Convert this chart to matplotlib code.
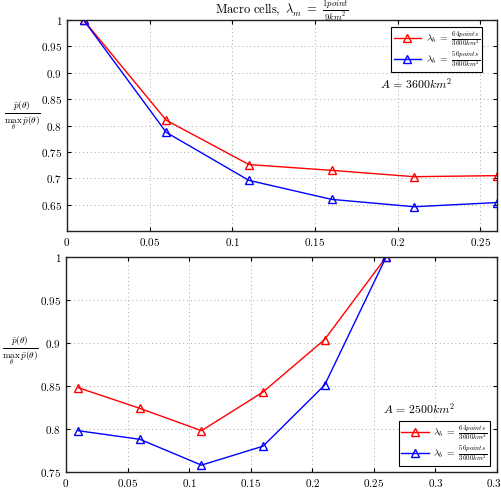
import matplotlib
matplotlib.use('Agg')
import matplotlib.pyplot as plt
from matplotlib.ticker import FuncFormatter

plt.rcParams['mathtext.fontset'] = 'cm'
plt.rcParams['font.family'] = ['DejaVu Serif']

theta = [0.01, 0.06, 0.11, 0.16, 0.21, 0.26]

# top panel, A = 3600 km^2
top_64 = [1.0, 0.81, 0.726, 0.715, 0.703, 0.705]
top_56 = [1.0, 0.787, 0.696, 0.66, 0.646, 0.654]

# bottom panel, A = 2500 km^2
bot_64 = [0.848, 0.824, 0.798, 0.843, 0.904, 1.0]
bot_56 = [0.798, 0.788, 0.758, 0.780, 0.851, 1.0]

lab_64 = r'$\lambda_b\ =\ \frac{64points}{3600km^2}$'
lab_56 = r'$\lambda_b\ =\ \frac{56points}{3600km^2}$'
ylab = r'$\frac{\bar{p}(\theta)}{\max_{\theta}\,\bar{p}(\theta)}$'

fmt = FuncFormatter(lambda v, p: r'$\mathrm{%g}$' % round(v, 3))

fig = plt.figure(figsize=(5.02, 4.93), dpi=100)
ax1 = fig.add_axes([0.1335, 0.5314, 0.8565, 0.428])
ax2 = fig.add_axes([0.1315, 0.0426, 0.8585, 0.4361])


def style(ax):
    ax.grid(True, linestyle=(0, (1, 3)), color='#aaaaaa', linewidth=0.7)
    ax.tick_params(direction='in', top=True, right=True, labelsize=8, length=3)
    ax.xaxis.set_major_formatter(fmt)
    ax.yaxis.set_major_formatter(fmt)
    for s in ax.spines.values():
        s.set_linewidth(1.0)
        s.set_color('#222222')


kw = dict(marker='^', markerfacecolor='none', markersize=6, linewidth=1.0, markeredgewidth=1.0)
legkw = dict(fontsize=7, fancybox=False, framealpha=1, edgecolor='black',
             handlelength=2.8, handletextpad=0.5, borderpad=0.25, labelspacing=0.15,
             borderaxespad=0)

ax1.plot(theta, top_64, color='red', label=lab_64, **kw)
ax1.plot(theta, top_56, color='blue', label=lab_56, **kw)
ax1.set_xlim(0, 0.26)
ax1.set_ylim(0.6, 1.0)
ax1.set_yticks([0.65, 0.7, 0.75, 0.8, 0.85, 0.9, 0.95, 1.0])
ax1.set_xticks([0, 0.05, 0.1, 0.15, 0.2, 0.25])
style(ax1)
ax1.set_title(r'$\mathrm{Macro\ cells,}\ \lambda_m\ =\ \frac{1point}{9km^2}$', fontsize=9, pad=4)
ax1.set_ylabel(ylab, rotation=0, fontsize=9.5)
ax1.yaxis.set_label_coords(-0.105, 0.47)
ax1.text(0.728, 0.675, r'$A\,=\,3600km^2$', transform=ax1.transAxes, fontsize=8.5)
leg1 = ax1.legend(loc='upper right', bbox_to_anchor=(0.966, 0.968), **legkw)
leg1.get_frame().set_linewidth(0.8)

ax2.plot(theta, bot_64, color='red', label=lab_64, **kw)
ax2.plot(theta, bot_56, color='blue', label=lab_56, **kw)
ax2.set_xlim(0, 0.35)
ax2.set_ylim(0.75, 1.0)
ax2.set_yticks([0.75, 0.8, 0.85, 0.9, 0.95, 1.0])
ax2.set_xticks([0, 0.05, 0.1, 0.15, 0.2, 0.25, 0.3, 0.35])
style(ax2)
ax2.set_xlabel(r'$\theta$', fontsize=9, labelpad=2)
ax2.set_ylabel(ylab, rotation=0, fontsize=9.5)
ax2.yaxis.set_label_coords(-0.105, 0.49)
ax2.text(0.735, 0.27, r'$A\,=\,2500km^2$', transform=ax2.transAxes, fontsize=8.5)
leg2 = ax2.legend(loc='lower right', bbox_to_anchor=(0.984, 0.028), **legkw)
leg2.get_frame().set_linewidth(0.8)

fig.savefig('out.png', dpi=100)
plt.close(fig)
